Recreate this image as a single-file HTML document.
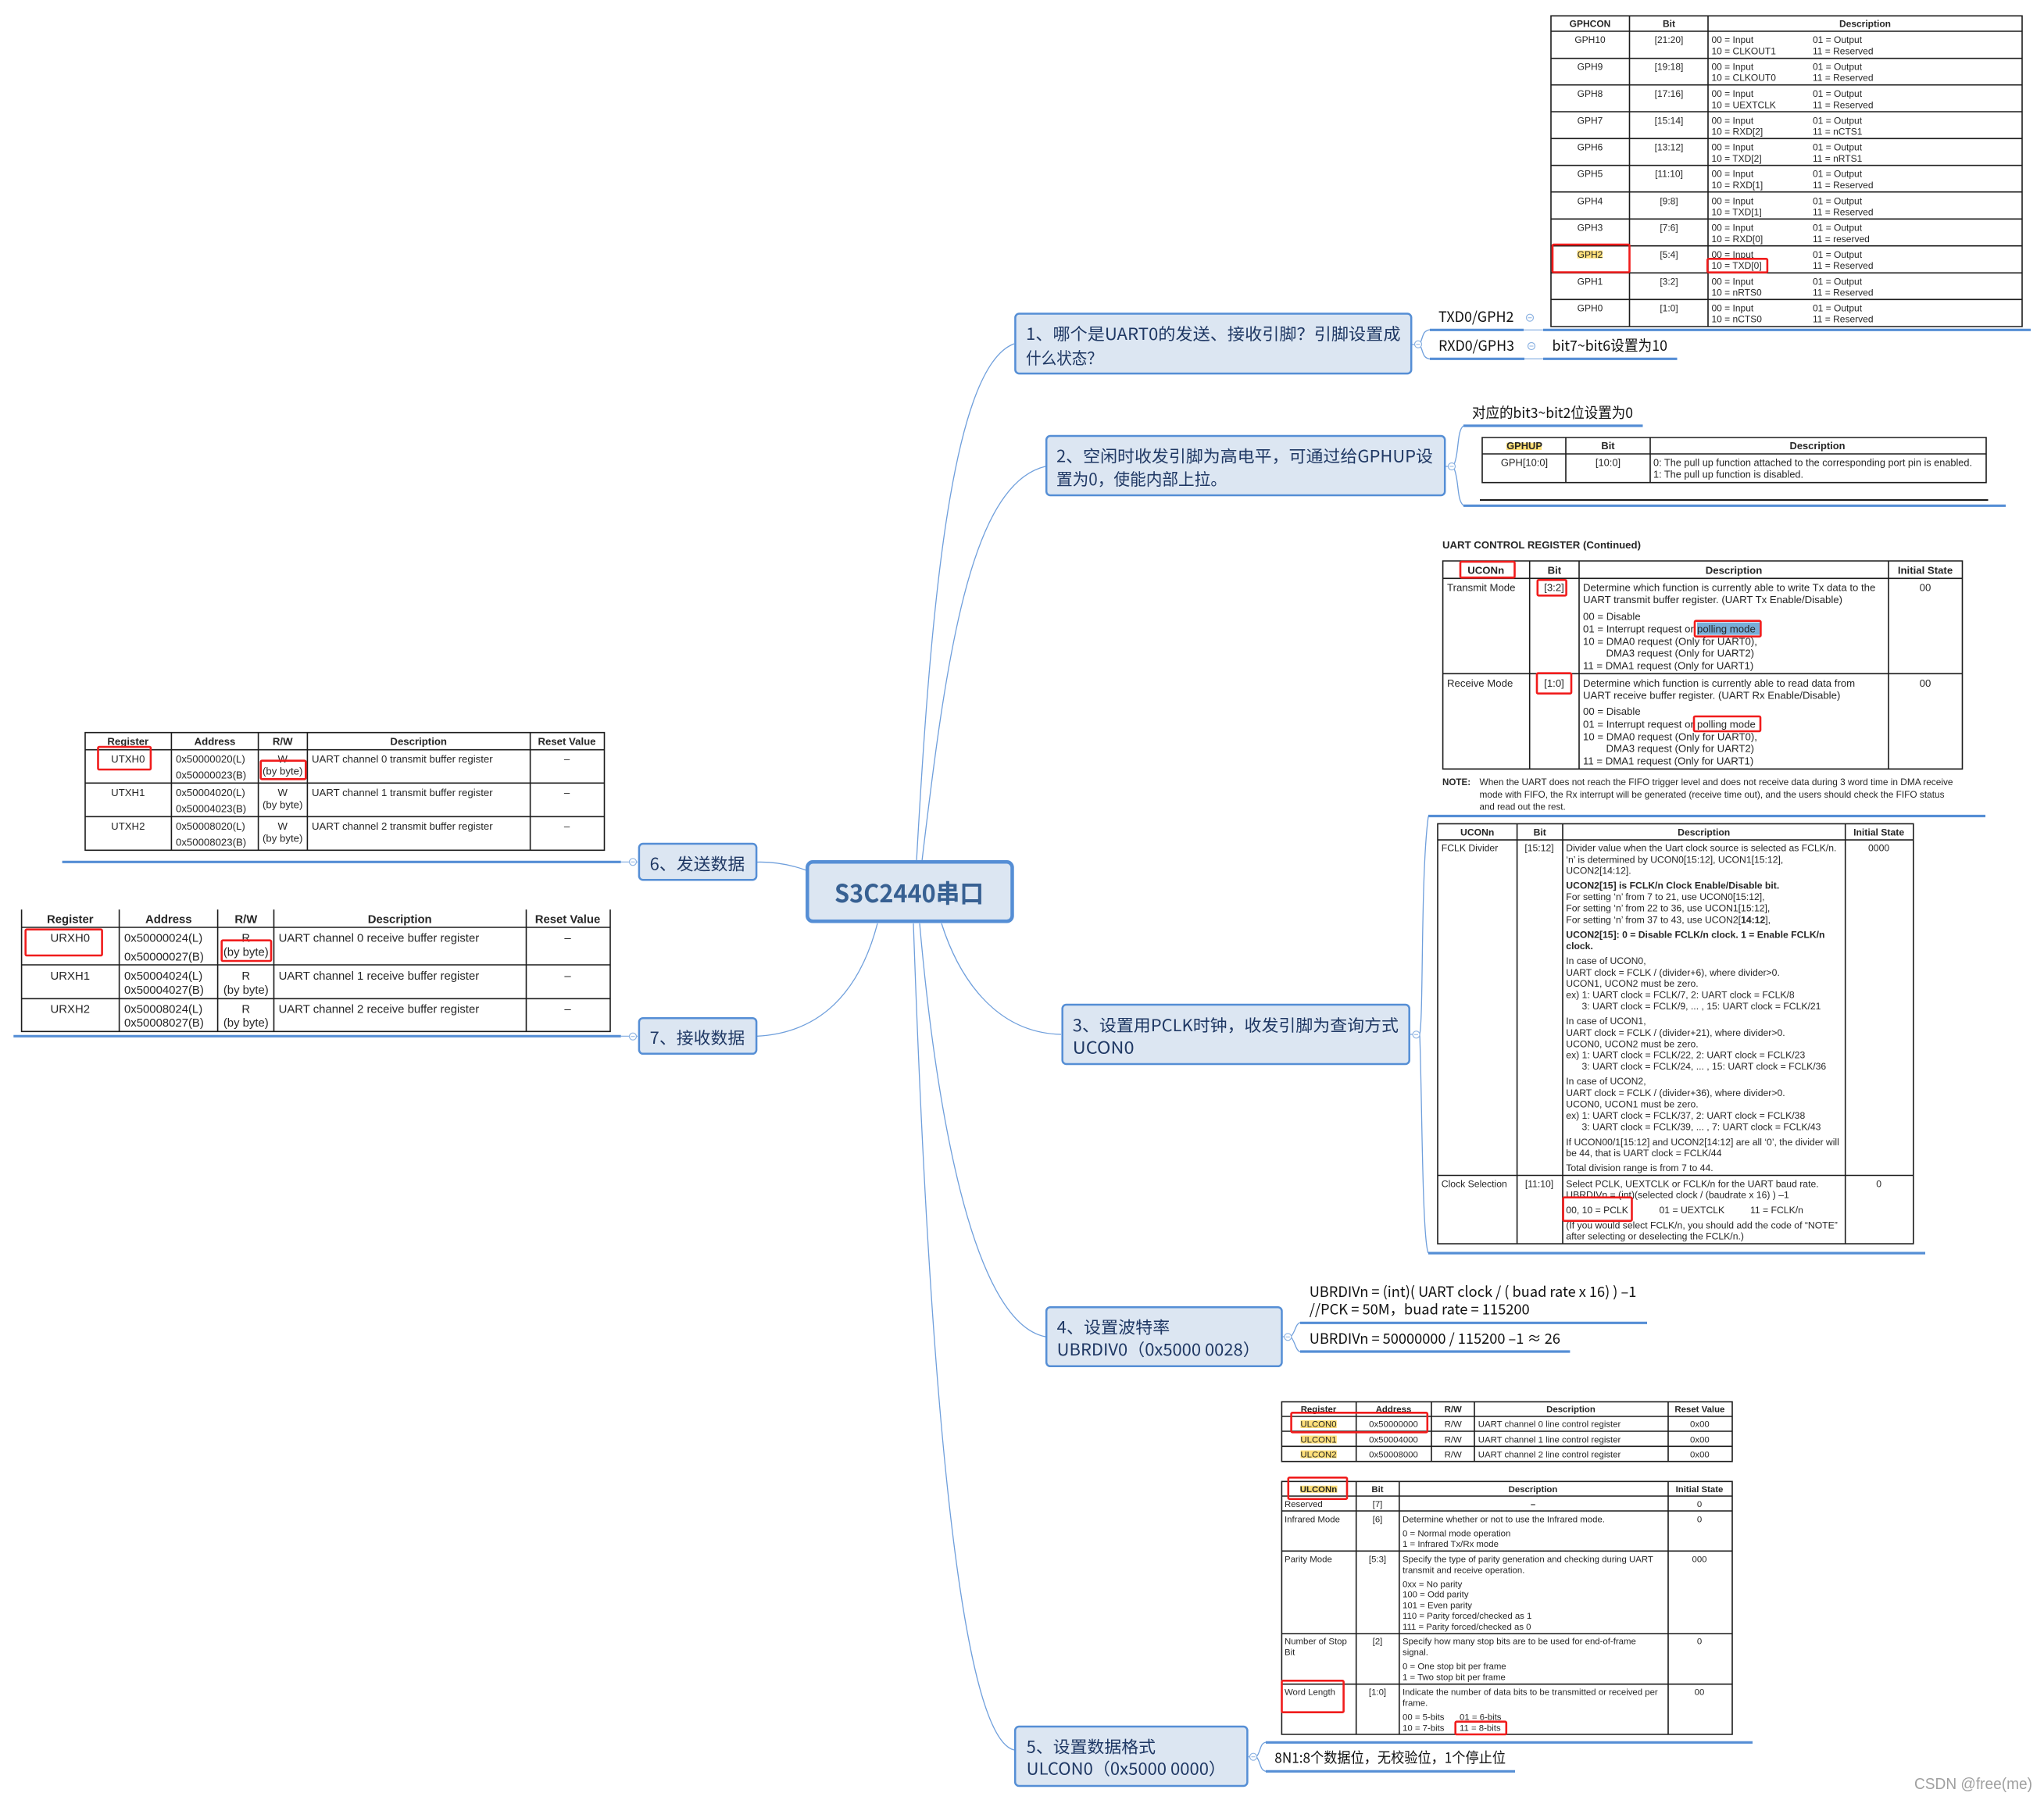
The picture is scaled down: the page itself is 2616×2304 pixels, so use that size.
<!DOCTYPE html>
<html><head><meta charset="utf-8"><title>S3C2440串口</title>
<style>
html,body{margin:0;padding:0;background:#fff}
svg{display:block}
text{font-family:"Liberation Sans",sans-serif;fill:#262626}
.m{text-anchor:middle}
.b{font-weight:bold}
.t{fill:none;stroke:#1c1c1c;stroke-width:1.6}
.r{fill:none;stroke:#f01c1c;stroke-width:2.6}
.c{fill:none;stroke:#6f9fdc;stroke-width:1.3}
.u{fill:none;stroke:#558ED5;stroke-width:3.2}
.th{fill:none;stroke:#7fa9e0;stroke-width:1.2}
.n{fill:#DCE6F2;stroke:#558ED5;stroke-width:2.5}
.o{fill:#fff;stroke:#8db3e2;stroke-width:1.2}
.mi{fill:none;stroke:#8db3e2;stroke-width:1}
.j text,text.j{font-family:"Noto Sans CJK SC","Liberation Sans",sans-serif;fill:#1F3864;font-size:21.3px}
.k text,text.k{font-family:"Noto Sans CJK SC","Liberation Sans",sans-serif;fill:#111;font-size:18.5px}
.y{fill:#FFE07A}
</style></head><body>
<svg xmlns="http://www.w3.org/2000/svg" width="2616" height="2304" viewBox="0 0 2616 2304">
<rect width="2616" height="2304" fill="#fff"/>

<!-- connectors from centre -->
<path class="c" d="M1173,1102C1190,800 1215,470 1298,440"/>
<path class="c" d="M1180,1102C1210,850 1240,620 1338,597"/>
<path class="c" d="M1205,1182C1225,1245 1270,1322 1358,1324"/>
<path class="c" d="M1177,1182C1190,1330 1230,1690 1338,1711"/>
<path class="c" d="M1169,1182C1180,1500 1210,2220 1298,2240"/>
<path class="c" d="M969,1103.5C990,1103 1010,1106 1032,1114"/>
<path class="c" d="M969,1326.3C1050,1322 1100,1270 1123,1182"/>

<!-- brackets -->
<path class="c" d="M1817,441C1822,430 1820,424 1830,422M1817,441C1822,450 1820,458 1830,459.5"/>
<path class="c" d="M1860,597C1868,580 1864,552 1873,545M1860,597C1868,615 1864,640 1873,647"/>
<path class="c" d="M1817,1324C1822,1300 1818,1120 1828,1045M1817,1324C1820,1400 1820,1585 1828,1604"/>
<path class="c" d="M1652,1711C1658,1705 1658,1694 1664.5,1692.7M1652,1711C1658,1718 1658,1729 1664.5,1730.3"/>
<path class="c" d="M1608,2248.7C1614,2242 1612,2231 1620.6,2230M1608,2248.7C1614,2256 1612,2266 1620.6,2267.3"/>

<!-- underline bars -->
<path class="u" d="M1830,422.3H1950M1975,422.3H2599M1830,459.3H1951M1975,459.3H2146.5"/>
<path class="th" d="M1950,422.3H1975M1951,459.3H1975"/>
<path class="u" d="M1873,545H2102.5M1873,647.3H2567"/>
<path class="t" style="stroke-width:2" d="M1894,640H2544.5"/>
<path class="u" d="M1828,1044.5H2541M1828,1604H2464"/>
<path class="u" d="M1664,1693.3H2108M1664,1730H2009.4"/>
<path class="u" d="M1620,2230.3H2243M1620,2267.3H1939"/>
<path class="u" d="M79.6,1103.3H794.7M17.3,1326.3H794.7"/>
<path class="th" d="M794.7,1103.3H816M794.7,1326.3H816M1807,441H1811M1850,597H1854M1805,1324H1808M1641.7,1711H1644M1597.6,2248.7H1600"/>

<!-- nodes -->
<rect class="n" style="stroke-width:4.5" x="1033.3" y="1103.3" width="262.2" height="76" rx="7"/>
<text x="1068" y="1155" textLength="191" lengthAdjust="spacingAndGlyphs" font-size="32" font-weight="bold" style="font-family:'Noto Sans CJK SC','Liberation Sans',sans-serif;fill:#376092">S3C2440串口</text>

<g class="j">
<rect class="n" x="1299.4" y="401.5" width="506.8" height="76.6" rx="5"/>
<text x="1313" y="435" textLength="479.5" lengthAdjust="spacingAndGlyphs">1、哪个是UART0的发送、接收引脚？引脚设置成</text>
<text x="1313" y="466" textLength="98" lengthAdjust="spacingAndGlyphs">什么状态？</text>

<rect class="n" x="1339.2" y="558" width="510" height="76" rx="5"/>
<text x="1352" y="591.7" textLength="482" lengthAdjust="spacingAndGlyphs">2、空闲时收发引脚为高电平，可通过给GPHUP设</text>
<text x="1352" y="621" textLength="218" lengthAdjust="spacingAndGlyphs">置为0，使能内部上拉。</text>

<rect class="n" x="1359.7" y="1286" width="444" height="76" rx="5"/>
<text x="1372.8" y="1320" textLength="417.2" lengthAdjust="spacingAndGlyphs">3、设置用PCLK时钟，收发引脚为查询方式</text>
<text x="1372.8" y="1348.3" textLength="78.7" lengthAdjust="spacingAndGlyphs">UCON0</text>

<rect class="n" x="1339.2" y="1673.2" width="301.3" height="75.6" rx="5"/>
<text x="1352.7" y="1706.7" textLength="144.6" lengthAdjust="spacingAndGlyphs">4、设置波特率</text>
<text x="1352.7" y="1735" textLength="260" lengthAdjust="spacingAndGlyphs">UBRDIV0（0x5000 0028）</text>

<rect class="n" x="1299.2" y="2210" width="297.2" height="76" rx="5"/>
<text x="1313.7" y="2243.3" textLength="165.3" lengthAdjust="spacingAndGlyphs">5、设置数据格式</text>
<text x="1313.7" y="2271.7" textLength="255.3" lengthAdjust="spacingAndGlyphs">ULCON0（0x5000 0000）</text>

<rect class="n" x="817.9" y="1080" width="150.2" height="46.2" rx="5"/>
<text x="831.7" y="1113.3" textLength="121.6" lengthAdjust="spacingAndGlyphs">6、发送数据</text>
<rect class="n" x="817.9" y="1303.2" width="150.2" height="45.6" rx="5"/>
<text x="831.7" y="1336" textLength="121.6" lengthAdjust="spacingAndGlyphs">7、接收数据</text>
</g>

<!-- collapse circles -->
<g>
<circle class="o" cx="1958" cy="406.7" r="4.5"/><circle class="o" cx="1960" cy="443" r="4.5"/><circle class="o" cx="1815" cy="440.7" r="4.5"/><circle class="o" cx="1858" cy="597" r="4.5"/><circle class="o" cx="1812.6" cy="1324.3" r="4.5"/><circle class="o" cx="1648.3" cy="1711.3" r="4.5"/><circle class="o" cx="1604" cy="2248.7" r="4.5"/><circle class="o" cx="810" cy="1103.3" r="4.5"/><circle class="o" cx="810" cy="1326.7" r="4.5"/>
<path class="mi" d="M1955.5,406.7h5M1957.5,443h5M1812.5,440.7h5M1855.5,597h5M1810,1324.3h5M1645.8,1711.3h5M1601.5,2248.7h5M807.5,1103.3h5M807.5,1326.7h5"/>
</g>

<!-- branch labels -->
<g class="k">
<text x="1841" y="412" textLength="96.5" lengthAdjust="spacingAndGlyphs">TXD0/GPH2</text>
<text x="1841" y="449" textLength="97" lengthAdjust="spacingAndGlyphs">RXD0/GPH3</text>
<text x="1986.5" y="449" textLength="147.5" lengthAdjust="spacingAndGlyphs">bit7~bit6设置为10</text>
<text x="1884" y="535" textLength="206" lengthAdjust="spacingAndGlyphs">对应的bit3~bit2位设置为0</text>
<text x="1675.7" y="1660" textLength="418.7" lengthAdjust="spacingAndGlyphs">UBRDIVn = (int)( UART clock / ( buad rate x 16) ) –1</text>
<text x="1675.7" y="1682.7" textLength="282" lengthAdjust="spacingAndGlyphs">//PCK = 50M，buad rate = 115200</text>
<text x="1675.7" y="1720" textLength="321.3" lengthAdjust="spacingAndGlyphs">UBRDIVn = 50000000 / 115200 –1 ≈ 26</text>
<text x="1631.3" y="2256.7" textLength="295.7" lengthAdjust="spacingAndGlyphs">8N1:8个数据位，无校验位，1个停止位</text>
</g>

<!-- GPHCON table -->
<rect class="y" x="2018.6" y="320.7" width="32.4" height="10"/>
<path class="t" d="M1985,20.3H2588V418H1985ZM1985,40H2588M1985,74.7H2588M1985,108.7H2588M1985,143H2588M1985,177.3H2588M1985,211.7H2588M1985,245.7H2588M1985,280.3H2588M1985,314.7H2588M1985,349.3H2588M1985,383.3H2588M2085.5,20.3V418M2186,20.3V418"/>
<g font-size="12">
<text class="m b" x="2035" y="34.7">GPHCON</text><text class="m b" x="2136" y="34.7">Bit</text><text class="m b" x="2387" y="34.7">Description</text>
<text class="m" x="2035" y="55">GPH10</text><text class="m" x="2136" y="55">[21:20]</text><text x="2190.5" y="55">00 = Input</text><text x="2320" y="55">01 = Output</text><text x="2190.5" y="69.3">10 = CLKOUT1</text><text x="2320" y="69.3">11 = Reserved</text>
<text class="m" x="2035" y="89.3">GPH9</text><text class="m" x="2136" y="89.3">[19:18]</text><text x="2190.5" y="89.3">00 = Input</text><text x="2320" y="89.3">01 = Output</text><text x="2190.5" y="103.6">10 = CLKOUT0</text><text x="2320" y="103.6">11 = Reserved</text>
<text class="m" x="2035" y="124">GPH8</text><text class="m" x="2136" y="124">[17:16]</text><text x="2190.5" y="124">00 = Input</text><text x="2320" y="124">01 = Output</text><text x="2190.5" y="138.3">10 = UEXTCLK</text><text x="2320" y="138.3">11 = Reserved</text>
<text class="m" x="2035" y="158.3">GPH7</text><text class="m" x="2136" y="158.3">[15:14]</text><text x="2190.5" y="158.3">00 = Input</text><text x="2320" y="158.3">01 = Output</text><text x="2190.5" y="172.6">10 = RXD[2]</text><text x="2320" y="172.6">11 = nCTS1</text>
<text class="m" x="2035" y="192.7">GPH6</text><text class="m" x="2136" y="192.7">[13:12]</text><text x="2190.5" y="192.7">00 = Input</text><text x="2320" y="192.7">01 = Output</text><text x="2190.5" y="207">10 = TXD[2]</text><text x="2320" y="207">11 = nRTS1</text>
<text class="m" x="2035" y="226.7">GPH5</text><text class="m" x="2136" y="226.7">[11:10]</text><text x="2190.5" y="226.7">00 = Input</text><text x="2320" y="226.7">01 = Output</text><text x="2190.5" y="241">10 = RXD[1]</text><text x="2320" y="241">11 = Reserved</text>
<text class="m" x="2035" y="261.3">GPH4</text><text class="m" x="2136" y="261.3">[9:8]</text><text x="2190.5" y="261.3">00 = Input</text><text x="2320" y="261.3">01 = Output</text><text x="2190.5" y="275.6">10 = TXD[1]</text><text x="2320" y="275.6">11 = Reserved</text>
<text class="m" x="2035" y="295.7">GPH3</text><text class="m" x="2136" y="295.7">[7:6]</text><text x="2190.5" y="295.7">00 = Input</text><text x="2320" y="295.7">01 = Output</text><text x="2190.5" y="310">10 = RXD[0]</text><text x="2320" y="310">11 = reserved</text>
<text class="m" x="2035" y="330">GPH2</text><text class="m" x="2136" y="330">[5:4]</text><text x="2190.5" y="330">00 = Input</text><text x="2320" y="330">01 = Output</text><text x="2190.5" y="344">10 = TXD[0]</text><text x="2320" y="344">11 = Reserved</text>
<text class="m" x="2035" y="364.3">GPH1</text><text class="m" x="2136" y="364.3">[3:2]</text><text x="2190.5" y="364.3">00 = Input</text><text x="2320" y="364.3">01 = Output</text><text x="2190.5" y="378.6">10 = nRTS0</text><text x="2320" y="378.6">11 = Reserved</text>
<text class="m" x="2035" y="398.3">GPH0</text><text class="m" x="2136" y="398.3">[1:0]</text><text x="2190.5" y="398.3">00 = Input</text><text x="2320" y="398.3">01 = Output</text><text x="2190.5" y="412.6">10 = nCTS0</text><text x="2320" y="412.6">11 = Reserved</text>
</g>
<rect class="r" x="1987" y="313" width="98.5" height="35.5" rx="1.5"/>
<rect class="r" x="2185.3" y="331.3" width="76.6" height="17.4" rx="1.5"/>

<!-- GPHUP table -->
<rect class="y" x="1928" y="566.7" width="45" height="9.3"/>
<path class="t" d="M1897,560H2542V617.7H1897ZM1897,581H2542M2004,560V617.7M2112,560V617.7"/>
<g font-size="12.9">
<text class="m b" x="1951" y="575">GPHUP</text><text class="m b" x="2058" y="575">Bit</text><text class="m b" x="2326" y="575">Description</text>
<text class="m" x="1951" y="596.7">GPH[10:0]</text><text class="m" x="2058" y="596.7">[10:0]</text>
<text x="2116" y="596.7" textLength="408" lengthAdjust="spacingAndGlyphs">0: The pull up function attached to the corresponding port pin is enabled.</text>
<text x="2116" y="611.7" textLength="192" lengthAdjust="spacingAndGlyphs">1: The pull up function is disabled.</text>
</g>

<!-- UART control register table -->
<text class="b" x="1846" y="702" font-size="13.2">UART CONTROL REGISTER (Continued)</text>
<rect x="2172" y="796.7" width="80" height="16" fill="#79aed8"/>
<path class="t" d="M1846.6,718H2511.5V984.3H1846.6ZM1846.6,740.3H2511.5M1846.6,862.3H2511.5M1957.7,718V984.3M2021,718V984.3M2417,718V984.3"/>
<g font-size="13.2">
<text class="m b" x="1901.7" y="734.3">UCONn</text><text class="m b" x="1989.4" y="734.3">Bit</text><text class="m b" x="2219" y="734.3">Description</text><text class="m b" x="2464" y="734.3">Initial State</text>
<text x="1852" y="756.7">Transmit Mode</text><text class="m" x="1989" y="756.7">[3:2]</text><text class="m" x="2464" y="756.7">00</text>
<text x="2026" y="756.7">Determine which function is currently able to write Tx data to the</text>
<text x="2026" y="772">UART transmit buffer register. (UART Tx Enable/Disable)</text>
<text x="2026" y="793.7">00 = Disable</text>
<text x="2026" y="809.3">01 = Interrupt request or</text><text x="2172" y="809.3">polling mode</text>
<text x="2026" y="825.3">10 = DMA0 request (Only for UART0),</text>
<text x="2055.5" y="840.7">DMA3 request (Only for UART2)</text>
<text x="2026" y="856.7">11 = DMA1 request (Only for UART1)</text>
<text x="1852" y="879">Receive Mode</text><text class="m" x="1989" y="879">[1:0]</text><text class="m" x="2464" y="879">00</text>
<text x="2026" y="879">Determine which function is currently able to read data from</text>
<text x="2026" y="894.3">UART receive buffer register. (UART Rx Enable/Disable)</text>
<text x="2026" y="915">00 = Disable</text>
<text x="2026" y="931.3">01 = Interrupt request or</text><text x="2172" y="931.3">polling mode</text>
<text x="2026" y="947.3">10 = DMA0 request (Only for UART0),</text>
<text x="2055.5" y="962.7">DMA3 request (Only for UART2)</text>
<text x="2026" y="978.7">11 = DMA1 request (Only for UART1)</text>
</g>
<g font-size="11.6">
<text class="b" x="1846" y="1005">NOTE:</text>
<text x="1893.5" y="1005" textLength="606" lengthAdjust="spacingAndGlyphs">When the UART does not reach the FIFO trigger level and does not receive data during 3 word time in DMA receive</text>
<text x="1893.5" y="1021" textLength="595" lengthAdjust="spacingAndGlyphs">mode with FIFO, the Rx interrupt will be generated (receive time out), and the users should check the FIFO status</text>
<text x="1893.5" y="1036.7">and read out the rest.</text>
</g>
<rect class="r" x="1869" y="719" width="69.5" height="20.3" rx="1.5"/>
<rect class="r" x="1967.8" y="742.3" width="36.8" height="20" rx="1.5"/>
<rect class="r" x="2169" y="794.7" width="84.4" height="20" rx="1.5"/>
<rect class="r" x="1967" y="861.7" width="44" height="26" rx="1.5"/>
<rect class="r" x="2168" y="917" width="85" height="19" rx="1.5"/>

<!-- FCLK table -->
<path class="t" d="M1840,1054.4H2448.8V1592H1840ZM1840,1075.1H2448.8M1840,1504.5H2448.8M1941.6,1054.4V1592M2000,1054.4V1592M2361.7,1054.4V1592"/>
<g font-size="12.2">
<text class="m b" x="1890.7" y="1069.6">UCONn</text><text class="m b" x="1970.7" y="1069.6">Bit</text><text class="m b" x="2180.7" y="1069.6">Description</text><text class="m b" x="2404.6" y="1069.6">Initial State</text>
<text x="1844.8" y="1089.6">FCLK Divider</text><text class="m" x="1970" y="1089.6">[15:12]</text><text class="m" x="2404.6" y="1089.6">0000</text>
<text x="2004.3" y="1089.6">Divider value when the Uart clock source is selected as FCLK/n.</text>
<text x="2004.3" y="1104.4">‘n’ is determined by UCON0[15:12], UCON1[15:12],</text>
<text x="2004.3" y="1118.4">UCON2[14:12].</text>
<text class="b" x="2004.3" y="1137.3">UCON2[15] is FCLK/n Clock Enable/Disable bit.</text>
<text x="2004.3" y="1152.1">For setting ‘n’ from 7 to 21, use UCON0[15:12],</text>
<text x="2004.3" y="1166.5">For setting ‘n’ from 22 to 36, use UCON1[15:12],</text>
<text x="2004.3" y="1181.3">For setting ‘n’ from 37 to 43, use UCON2[<tspan class="b">14:12</tspan>],</text>
<text class="b" x="2004.3" y="1200.6">UCON2[15]: 0 = Disable FCLK/n clock. 1 = Enable FCLK/n</text>
<text class="b" x="2004.3" y="1215">clock.</text>
<text x="2004.3" y="1234.2">In case of UCON0,</text>
<text x="2004.3" y="1249">UART clock = FCLK / (divider+6), where divider&gt;0.</text>
<text x="2004.3" y="1263.1">UCON1, UCON2 must be zero.</text>
<text x="2004.3" y="1277.5">ex) 1: UART clock = FCLK/7, 2: UART clock = FCLK/8</text>
<text x="2024.5" y="1292">3: UART clock = FCLK/9, ... , 15: UART clock = FCLK/21</text>
<text x="2004.3" y="1311.2">In case of UCON1,</text>
<text x="2004.3" y="1326">UART clock = FCLK / (divider+21), where divider&gt;0.</text>
<text x="2004.3" y="1340.4">UCON0, UCON2 must be zero.</text>
<text x="2004.3" y="1354.5">ex) 1: UART clock = FCLK/22, 2: UART clock = FCLK/23</text>
<text x="2024.5" y="1368.9">3: UART clock = FCLK/24, ... , 15: UART clock = FCLK/36</text>
<text x="2004.3" y="1388.1">In case of UCON2,</text>
<text x="2004.3" y="1402.9">UART clock = FCLK / (divider+36), where divider&gt;0.</text>
<text x="2004.3" y="1417.4">UCON0, UCON1 must be zero.</text>
<text x="2004.3" y="1432.2">ex) 1: UART clock = FCLK/37, 2: UART clock = FCLK/38</text>
<text x="2024.5" y="1446.6">3: UART clock = FCLK/39, ... , 7: UART clock = FCLK/43</text>
<text x="2004.3" y="1465.8">If UCON00/1[15:12] and UCON2[14:12] are all ‘0’, the divider will</text>
<text x="2004.3" y="1479.9">be 44, that is UART clock = FCLK/44</text>
<text x="2004.3" y="1499.1">Total division range is from 7 to 44.</text>
<text x="1844.8" y="1519.4">Clock Selection</text><text class="m" x="1970" y="1519.4">[11:10]</text><text class="m" x="2404.6" y="1519.4">0</text>
<text x="2004.3" y="1519.4">Select PCLK, UEXTCLK or FCLK/n  for the UART baud rate.</text>
<text x="2004.3" y="1533.4">UBRDIVn = (int)(selected clock / (baudrate x 16) ) –1</text>
<text x="2004.3" y="1553.2">00, 10 = PCLK</text><text x="2123.5" y="1553.2">01 = UEXTCLK</text><text x="2240" y="1553.2">11 = FCLK/n</text>
<text x="2004.3" y="1572.5">(If you would select FCLK/n, you should add the code of “NOTE”</text>
<text x="2004.3" y="1586.5">after selecting or deselecting the FCLK/n.)</text>
</g>
<rect class="r" x="2000.6" y="1532.7" width="87.9" height="30" rx="1.5"/>

<!-- ULCON table -->
<rect class="y" x="1664.5" y="1818" width="46.3" height="10"/><rect class="y" x="1664.5" y="1837.5" width="46.3" height="10"/><rect class="y" x="1664.5" y="1856.5" width="46.3" height="10"/>
<path class="t" d="M1640.4,1794.3H2217V1870.7H1640.4ZM1640.4,1813H2217M1640.4,1832H2217M1640.4,1851.3H2217M1735.7,1794.3V1870.7M1832,1794.3V1870.7M1887,1794.3V1870.7M2135,1794.3V1870.7"/>
<g font-size="11.4">
<text class="m b" x="1687.5" y="1807.7">Register</text><text class="m b" x="1783.5" y="1807.7">Address</text><text class="m b" x="1859.7" y="1807.7">R/W</text><text class="m b" x="2010.5" y="1807.7">Description</text><text class="m b" x="2175.4" y="1807.7">Reset Value</text>
<text class="m" x="1687.5" y="1826.7">ULCON0</text><text class="m" x="1783.5" y="1826.7">0x50000000</text><text class="m" x="1859.7" y="1826.7">R/W</text><text x="1891.8" y="1826.7">UART channel 0 line control register</text><text class="m" x="2175.4" y="1826.7">0x00</text>
<text class="m" x="1687.5" y="1846.3">ULCON1</text><text class="m" x="1783.5" y="1846.3">0x50004000</text><text class="m" x="1859.7" y="1846.3">R/W</text><text x="1891.8" y="1846.3">UART channel 1 line control register</text><text class="m" x="2175.4" y="1846.3">0x00</text>
<text class="m" x="1687.5" y="1865.3">ULCON2</text><text class="m" x="1783.5" y="1865.3">0x50008000</text><text class="m" x="1859.7" y="1865.3">R/W</text><text x="1891.8" y="1865.3">UART channel 2 line control register</text><text class="m" x="2175.4" y="1865.3">0x00</text>
</g>
<rect class="r" x="1652.6" y="1808.3" width="174.2" height="25" rx="1.5"/>

<!-- ULCONn table -->
<rect class="y" x="1664" y="1901.7" width="47.5" height="9"/>
<path class="t" d="M1640.4,1896.3H2217V2220H1640.4ZM1640.4,1915H2217M1640.4,1934H2217M1640.4,1985.3H2217M1640.4,2091H2217M1640.4,2155.7H2217M1735.7,1896.3V2220M1790.8,1896.3V2220M2135,1896.3V2220"/>
<g font-size="11.4">
<text class="m b" x="1687.5" y="1910">ULCONn</text><text class="m b" x="1763" y="1910">Bit</text><text class="m b" x="1962" y="1910">Description</text><text class="m b" x="2175" y="1910">Initial State</text>
<text x="1644" y="1929">Reserved</text><text class="m" x="1763" y="1929">[7]</text><text class="m b" x="1962" y="1929">–</text><text class="m" x="2175" y="1929">0</text>
<text x="1644" y="1948.3">Infrared Mode</text><text class="m" x="1763" y="1948.3">[6]</text><text class="m" x="2175" y="1948.3">0</text>
<text x="1795" y="1948.3">Determine whether or not to use the Infrared mode.</text>
<text x="1795" y="1966.7">0 = Normal mode operation</text>
<text x="1795" y="1980">1 = Infrared Tx/Rx mode</text>
<text x="1644" y="1999.3">Parity Mode</text><text class="m" x="1763" y="1999.3">[5:3]</text><text class="m" x="2175" y="1999.3">000</text>
<text x="1795" y="1999.3">Specify the type of parity generation and checking during UART</text>
<text x="1795" y="2013.3">transmit and receive operation.</text>
<text x="1795" y="2031.7">0xx = No parity</text>
<text x="1795" y="2044.7">100 = Odd parity</text>
<text x="1795" y="2058.3">101 = Even parity</text>
<text x="1795" y="2072">110 = Parity forced/checked as 1</text>
<text x="1795" y="2086">111 = Parity forced/checked as 0</text>
<text x="1644" y="2104.7">Number of Stop</text><text x="1644" y="2118.7">Bit</text><text class="m" x="1763" y="2104.7">[2]</text><text class="m" x="2175" y="2104.7">0</text>
<text x="1795" y="2104.7">Specify how many stop bits are to be used for end-of-frame</text>
<text x="1795" y="2118.7">signal.</text>
<text x="1795" y="2136.7">0 = One stop bit per frame</text>
<text x="1795" y="2150.7">1 = Two stop bit per frame</text>
<text x="1644" y="2169.3">Word Length</text><text class="m" x="1763" y="2169.3">[1:0]</text><text class="m" x="2175" y="2169.3">00</text>
<text x="1795" y="2169.3">Indicate the number of data bits to be transmitted or received per</text>
<text x="1795" y="2183.3">frame.</text>
<text x="1795" y="2201.7">00 = 5-bits</text><text x="1868" y="2201.7">01 = 6-bits</text>
<text x="1795" y="2215.3">10 = 7-bits</text><text x="1868" y="2215.3">11 = 8-bits</text>
</g>
<rect class="r" x="1648.8" y="1891.3" width="75.2" height="27.4" rx="1.5"/>
<rect class="r" x="1640.5" y="2151.3" width="79.1" height="40.4" rx="1.5"/>
<rect class="r" x="1862.7" y="2203.7" width="65.1" height="16.3" rx="1.5"/>

<!-- UTXH table -->
<path class="t" d="M109,937.7H773.5V1088.3H109ZM109,959.7H773.5M109,1002.3H773.5M109,1045.3H773.5M219.4,937.7V1088.3M330.6,937.7V1088.3M393.4,937.7V1088.3M678.6,937.7V1088.3"/>
<g font-size="13.2">
<text class="m b" x="163.8" y="953.3">Register</text><text class="m b" x="275" y="953.3">Address</text><text class="m b" x="361.7" y="953.3">R/W</text><text class="m b" x="535.7" y="953.3">Description</text><text class="m b" x="725.5" y="953.3">Reset Value</text>
<text class="m" x="163.8" y="976">UTXH0</text><text x="225" y="976">0x50000020(L)</text><text x="225" y="996.7">0x50000023(B)</text><text class="m" x="361.7" y="976">W</text><text class="m" x="361.7" y="991.3">(by byte)</text><text x="399" y="976">UART channel 0 transmit buffer register</text><text class="m" x="725.5" y="976">–</text>
<text class="m" x="163.8" y="1019">UTXH1</text><text x="225" y="1019">0x50004020(L)</text><text x="225" y="1039.7">0x50004023(B)</text><text class="m" x="361.7" y="1019">W</text><text class="m" x="361.7" y="1034.3">(by byte)</text><text x="399" y="1019">UART channel 1 transmit buffer register</text><text class="m" x="725.5" y="1019">–</text>
<text class="m" x="163.8" y="1062">UTXH2</text><text x="225" y="1062">0x50008020(L)</text><text x="225" y="1082.7">0x50008023(B)</text><text class="m" x="361.7" y="1062">W</text><text class="m" x="361.7" y="1077.3">(by byte)</text><text x="399" y="1062">UART channel 2 transmit buffer register</text><text class="m" x="725.5" y="1062">–</text>
</g>
<rect class="r" x="125.5" y="956" width="67.4" height="29" rx="1.5"/>
<rect class="r" x="333.7" y="973.7" width="57.6" height="23.6" rx="1.5"/>

<!-- URXH table -->
<path class="t" d="M27.6,1164.3V1320.3H781V1164.3M27.6,1187H781M27.6,1235H781M27.6,1278.3H781M152.6,1164.3V1320.3M278.6,1164.3V1320.3M350.5,1164.3V1320.3M673.5,1164.3V1320.3"/>
<g font-size="14.9">
<text class="m b" x="89.8" y="1181.7">Register</text><text class="m b" x="215.8" y="1181.7">Address</text><text class="m b" x="314.8" y="1181.7">R/W</text><text class="m b" x="511.7" y="1181.7">Description</text><text class="m b" x="726.5" y="1181.7">Reset Value</text>
<text class="m" x="89.8" y="1205.3">URXH0</text><text x="159" y="1205.3">0x50000024(L)</text><text x="159" y="1229.3">0x50000027(B)</text><text class="m" x="314.8" y="1205.3">R</text><text class="m" x="314.8" y="1223.3">(by byte)</text><text x="356.6" y="1205.3">UART channel 0 receive buffer register</text><text class="m" x="726.5" y="1205.3">–</text>
<text class="m" x="89.8" y="1254">URXH1</text><text x="159" y="1254">0x50004024(L)</text><text x="159" y="1272">0x50004027(B)</text><text class="m" x="314.8" y="1254">R</text><text class="m" x="314.8" y="1272">(by byte)</text><text x="356.6" y="1254">UART channel 1 receive buffer register</text><text class="m" x="726.5" y="1254">–</text>
<text class="m" x="89.8" y="1296.7">URXH2</text><text x="159" y="1296.7">0x50008024(L)</text><text x="159" y="1314">0x50008027(B)</text><text class="m" x="314.8" y="1296.7">R</text><text class="m" x="314.8" y="1314">(by byte)</text><text x="356.6" y="1296.7">UART channel 2 receive buffer register</text><text class="m" x="726.5" y="1296.7">–</text>
</g>
<rect class="r" x="32.7" y="1189.7" width="97.9" height="33.3" rx="1.5"/>
<rect class="r" x="283.7" y="1203.7" width="63.3" height="26.3" rx="1.5"/>

<!-- watermark -->
<text x="2450" y="2290" font-size="20" textLength="151" lengthAdjust="spacingAndGlyphs" style="fill:#a0a0a0;font-family:'Liberation Sans','Noto Sans CJK SC',sans-serif">CSDN @free(me)</text>
</svg>
</body></html>
